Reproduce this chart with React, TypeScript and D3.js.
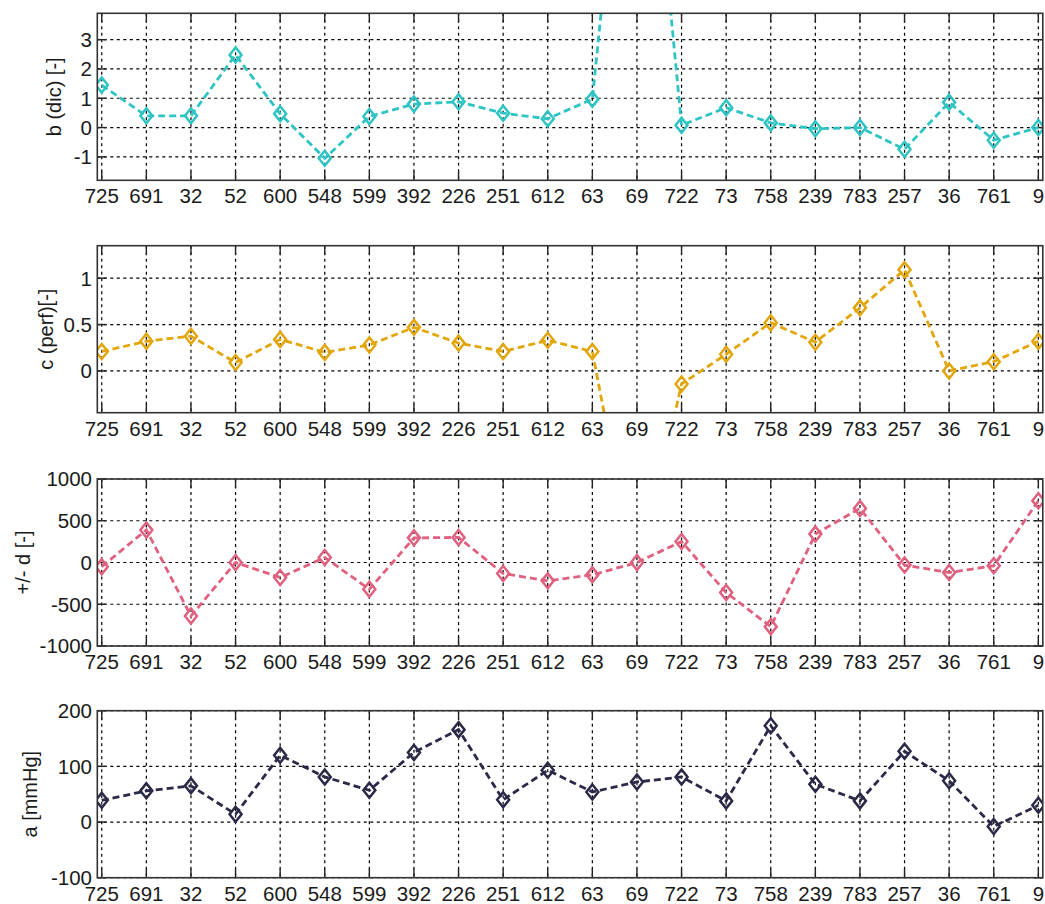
import React from "react";
import * as d3 from "d3";

// Sample identifiers along the shared x axis
const categories = [
  "725", "691", "32", "52", "600", "548", "599", "392", "226", "251", "612",
  "63", "69", "722", "73", "758", "239", "783", "257", "36", "761", "9",
];

// Series values, one per sample
const bDic = [1.45, 0.4, 0.4, 2.48, 0.47, -1.05, 0.38, 0.8, 0.88, 0.49, 0.3, 0.97, 16, 0.08, 0.68, 0.16, -0.04, 0.0, -0.74, 0.86, -0.43, 0.0];
const cPerf = [0.21, 0.32, 0.375, 0.09, 0.34, 0.2, 0.28, 0.47, 0.3, 0.21, 0.33, 0.21, -2.3, -0.14, 0.18, 0.52, 0.31, 0.68, 1.09, 0.0, 0.1, 0.32];
const dVals = [-50, 390, -640, 0, -180, 60, -320, 295, 300, -132, -220, -148, 0, 252, -360, -768, 340, 648, -31, -120, -40, 740];
const aVals = [39, 56, 65, 14, 120, 81, 57, 125, 166, 40, 93, 54, 72, 81, 38, 173, 68, 38, 127, 74, -8, 30];

// Y tick values per panel
const bTicks = [-1, 0, 1, 2, 3];
const cTicks = [0, 0.5, 1];
const dTicks = [-1000, -500, 0, 500, 1000];
const aTicks = [-100, 0, 100, 200];

type Panel = {
  key: string;
  label: string;
  values: number[];
  ticks: number[];
  domain: [number, number];
  color: string;
  top: number;
  labelX: number;
};

const panels: Panel[] = [
  { key: "b", label: "b (dic) [-]", values: bDic, ticks: bTicks, domain: [-1.8, 3.9], color: "#2ec4c4", top: 13.3, labelX: 61 },
  { key: "c", label: "c (perf)[-]", values: cPerf, ticks: cTicks, domain: [-0.45, 1.35], color: "#e2a60a", top: 245.7, labelX: 53 },
  { key: "d", label: "+/- d [-]", values: dVals, ticks: dTicks, domain: [-1000, 1000], color: "#e0607f", top: 479, labelX: 30 },
  { key: "a", label: "a [mmHg]", values: aVals, ticks: aTicks, domain: [-100, 200], color: "#2a2a48", top: 710.7, labelX: 37 },
];

const W = 1045;
const H = 904;
const left = 97.3;
const right = 1042.8;
const panelH = 167;
const tickLen = 9;
const font = "'Liberation Sans', Arial, Helvetica, sans-serif";

function PanelView({ p }: { p: Panel }) {
  const x = d3.scaleLinear().domain([0.9, 22.1]).range([left, right]);
  const y = d3.scaleLinear().domain(p.domain).range([p.top + panelH, p.top]);
  const bottom = p.top + panelH;
  const idx = categories.map((_, i) => i + 1);
  const line = d3
    .line<number>()
    .x((_, i) => x(i + 1))
    .y((v) => y(v));
  const clipId = `clip-${p.key}`;
  const diamond = (cx: number, cy: number) =>
    `M${cx},${cy - 7.5} L${cx + 6},${cy} L${cx},${cy + 7.5} L${cx - 6},${cy} Z`;
  const fmt = (v: number) => String(v);

  return (
    <g>
      <defs>
        <clipPath id={clipId}>
          <rect x={left} y={p.top} width={right - left} height={panelH} />
        </clipPath>
      </defs>
      {/* grid */}
      <g stroke="#000" strokeWidth={1.2} strokeDasharray="3,3.5">
        {idx.map((i) => (
          <line key={`gx${i}`} x1={x(i)} x2={x(i)} y1={p.top} y2={bottom} />
        ))}
        {p.ticks.map((t) => (
          <line key={`gy${t}`} x1={left} x2={right} y1={y(t)} y2={y(t)} />
        ))}
      </g>
      {/* tick marks */}
      <g stroke="#222" strokeWidth={1.4}>
        {idx.map((i) => (
          <g key={`tx${i}`}>
            <line x1={x(i)} x2={x(i)} y1={bottom} y2={bottom - tickLen} />
            <line x1={x(i)} x2={x(i)} y1={p.top} y2={p.top + tickLen} />
          </g>
        ))}
        {p.ticks.map((t) => (
          <g key={`ty${t}`}>
            <line x1={left} x2={left + tickLen} y1={y(t)} y2={y(t)} />
            <line x1={right} x2={right - tickLen} y1={y(t)} y2={y(t)} />
          </g>
        ))}
      </g>
      {/* series */}
      <g clipPath={`url(#${clipId})`}>
        <path
          d={line(p.values) || ""}
          fill="none"
          stroke={p.color}
          strokeWidth={2.8}
          strokeDasharray="7,4"
        />
        {p.values.map((v, i) => (
          <path
            key={`m${i}`}
            d={diamond(x(i + 1), y(v))}
            fill="none"
            stroke={p.color}
            strokeWidth={2.5}
          />
        ))}
      </g>
      {/* frame */}
      <rect
        x={left}
        y={p.top}
        width={right - left}
        height={panelH}
        fill="none"
        stroke="#333"
        strokeWidth={1.6}
      />
      {/* x tick labels */}
      <g fontFamily={font} fontSize={20.5} fill="#1a1a1a" textAnchor="middle">
        {categories.map((c, i) => (
          <text key={`xl${c}`} x={x(i + 1)} y={bottom + 23}>
            {c}
          </text>
        ))}
      </g>
      {/* y tick labels */}
      <g fontFamily={font} fontSize={20.5} fill="#1a1a1a" textAnchor="end">
        {p.ticks.map((t) => (
          <text key={`yl${t}`} x={92} y={y(t)} dy="0.36em">
            {fmt(t)}
          </text>
        ))}
      </g>
      <text
        transform={`translate(${p.labelX},${p.top + panelH / 2}) rotate(-90)`}
        textAnchor="middle"
        fontFamily={font}
        fontSize={20}
        fill="#1a1a1a"
      >
        {p.label}
      </text>
    </g>
  );
}

export default function App() {
  return (
    <svg
      width={W}
      height={H}
      viewBox={`0 0 ${W} ${H}`}
      style={{ position: "absolute", left: 0, top: 0, background: "#fff" }}
    >
      <rect width={W} height={H} fill="#fff" />
      {panels.map((p) => (
        <PanelView key={p.key} p={p} />
      ))}
    </svg>
  );
}
